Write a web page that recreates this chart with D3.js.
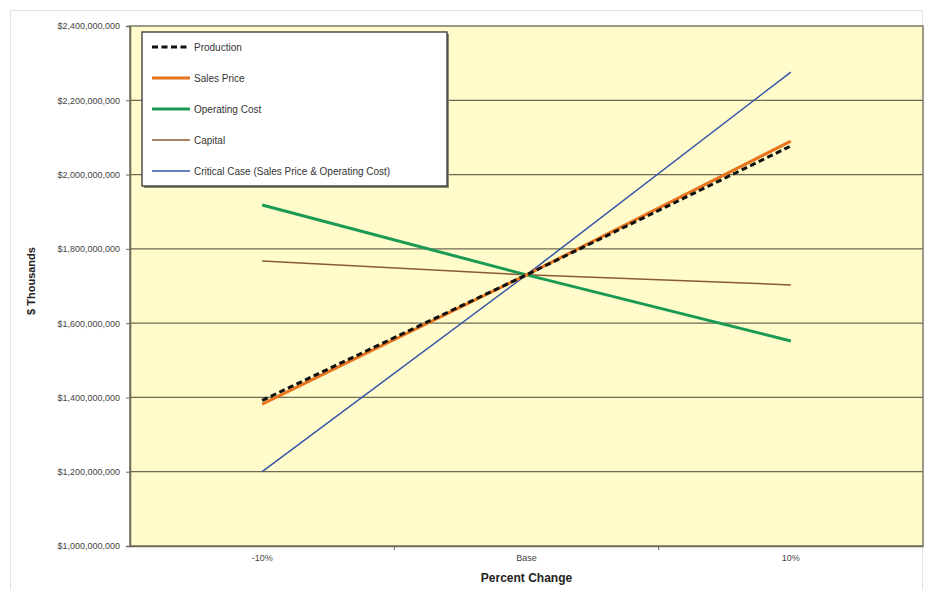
<!DOCTYPE html>
<html><head><meta charset="utf-8">
<script src="https://cdn.jsdelivr.net/npm/d3@7"></script>
<style>body{margin:0;background:#fff;font-family:Arial,"Liberation Sans",sans-serif;}</style>
</head><body>
<svg id="chart" width="928" height="590"></svg>
<script>
const categories = ["-10%", "Base", "10%"];
const production = [1392e6, 1730e6, 2077e6];
const salesPrice = [1382e6, 1730e6, 2090e6];
const operatingCost = [1918e6, 1730e6, 1552e6];
const capital = [1767e6, 1730e6, 1703e6];
const criticalCase = [1200e6, 1730e6, 2276e6];
const yTicks = [1000e6, 1200e6, 1400e6, 1600e6, 1800e6, 2000e6, 2200e6, 2400e6];

const series = [
  {name: "Production", values: production, color: "#111", width: 3, dash: "6,3.5"},
  {name: "Sales Price", values: salesPrice, color: "#E8741E", width: 3, dash: null},
  {name: "Operating Cost", values: operatingCost, color: "#1A9A55", width: 3, dash: null},
  {name: "Capital", values: capital, color: "#8A5A30", width: 1.5, dash: null},
  {name: "Critical Case (Sales Price & Operating Cost)", values: criticalCase, color: "#3355AA", width: 1.5, dash: null}
];

const svg = d3.select("#chart");
const m = {left: 130, right: 5, top: 26, bottom: 44};
const W = 928, H = 590;
const x = d3.scaleBand().domain(categories).range([m.left, W - m.right]);
const y = d3.scaleLinear().domain([1000e6, 2400e6]).range([H - m.bottom, m.top]);

// outer chart border
svg.append("rect").attr("x", 10.5).attr("y", 10.5).attr("width", 912).attr("height", 600)
  .attr("fill", "#fff").attr("stroke", "#e2e2e2");

// plot area
svg.append("rect").attr("x", m.left).attr("y", m.top)
  .attr("width", W - m.left - m.right).attr("height", H - m.top - m.bottom)
  .attr("fill", "#FFFBCA").attr("stroke", "#7a7a6a").attr("stroke-width", 1.5);

// gridlines
svg.append("g").selectAll("line").data(yTicks.slice(1, -1)).join("line")
  .attr("x1", m.left).attr("x2", W - m.right)
  .attr("y1", d => y(d)).attr("y2", d => y(d))
  .attr("stroke", "#6e6a55").attr("stroke-width", 1.3);

// y axis
const yAxis = d3.axisLeft(y).tickValues(yTicks).tickSize(4)
  .tickFormat(d => "$" + d3.format(",")(d));
const gy = svg.append("g").attr("transform", `translate(${m.left},0)`).call(yAxis);
gy.select(".domain").attr("stroke", "#6e6a55").attr("stroke-width", 1.5);
gy.selectAll(".tick line").attr("stroke", "#6e6a55");
gy.selectAll("text").attr("font-size", 9).attr("fill", "#444").attr("font-family", "Arial, Liberation Sans, sans-serif").attr("dx", -3);

// x axis
const xAxis = d3.axisBottom(x).tickSize(0).tickPadding(9);
const gx = svg.append("g").attr("transform", `translate(0,${H - m.bottom})`).call(xAxis);
gx.select(".domain").attr("stroke", "#6e6a55").attr("stroke-width", 1.5);
gx.selectAll("text").attr("font-size", 9).attr("fill", "#444").attr("font-family", "Arial, Liberation Sans, sans-serif");
// band-boundary tick marks
svg.append("g").selectAll("line").data(categories.slice(1)).join("line")
  .attr("x1", d => x(d)).attr("x2", d => x(d))
  .attr("y1", H - m.bottom).attr("y2", H - m.bottom + 4)
  .attr("stroke", "#6e6a55");

// axis titles
svg.append("text").attr("x", x("Base") + x.bandwidth() / 2).attr("y", 582)
  .attr("text-anchor", "middle").attr("font-size", 12).attr("font-weight", "bold")
  .attr("fill", "#222").text("Percent Change");
svg.append("text").attr("transform", `translate(35,281) rotate(-90)`)
  .attr("text-anchor", "middle").attr("font-size", 11).attr("font-weight", "bold")
  .attr("fill", "#222").text("$ Thousands");

// lines
const line = d3.line().x((d, i) => x(categories[i]) + x.bandwidth() / 2).y(d => y(d));
svg.append("g").selectAll("path").data(series.slice().reverse()).join("path")
  .attr("d", s => line(s.values)).attr("fill", "none")
  .attr("stroke", s => s.color).attr("stroke-width", s => s.width)
  .attr("stroke-dasharray", s => s.dash);

// legend
const lg = svg.append("g").attr("transform", "translate(142,32)");
lg.append("rect").attr("x", 2).attr("y", 2).attr("width", 305).attr("height", 154).attr("fill", "#8a8a70");
lg.append("rect").attr("width", 305).attr("height", 154).attr("fill", "#fff")
  .attr("stroke", "#333").attr("stroke-width", 1.3);
const items = lg.selectAll("g").data(series).join("g")
  .attr("transform", (d, i) => `translate(0,${15 + i * 31})`);
items.append("line").attr("x1", 10).attr("x2", 48).attr("y1", 0).attr("y2", 0)
  .attr("stroke", d => d.color).attr("stroke-width", d => d.width)
  .attr("stroke-dasharray", d => d.dash);
items.append("text").attr("x", 52).attr("y", 3.5).attr("font-size", 10)
  .attr("fill", "#333").text(d => d.name);
</script>
</body></html>
